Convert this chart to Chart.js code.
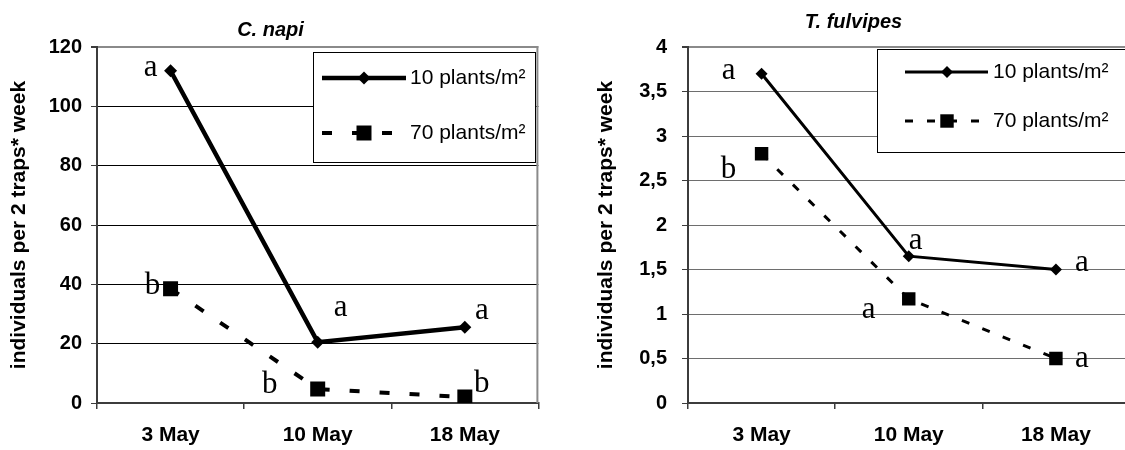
<!DOCTYPE html>
<html>
<head>
<meta charset="utf-8">
<script src="https://cdn.jsdelivr.net/npm/chart.js@4/dist/chart.umd.min.js"></script>
<style>
  html, body { margin: 0; padding: 0; background: #fff; width: 1125px; height: 450px; overflow: hidden; }
  body { position: relative; }
  .panel { position: absolute; top: 0; height: 450px; }
</style>
</head>
<body>
<div class="panel" id="napiPanel"><canvas id="napiChart"></canvas></div>
<div class="panel" id="fulvPanel"><canvas id="fulvChart"></canvas></div>
<script>
// ---- data ----
const dates = ['3 May', '10 May', '18 May'];
const densityLabels = ['10 plants/m²', '70 plants/m²'];

const napiTitle = 'C. napi';
const napiLow = [112, 20.5, 25.5];      // 10 plants/m²
const napiHigh = [38.5, 4.7, 2];        // 70 plants/m²
const napiLowLetters = ['a', 'a', 'a'];
const napiHighLetters = ['b', 'b', 'b'];
const napiTickLabels = ['0', '20', '40', '60', '80', '100', '120'];

const fulvTitle = 'T. fulvipes';
const fulvLow = [3.7, 1.65, 1.5];
const fulvHigh = [2.8, 1.17, 0.5];
const fulvLowLetters = ['a', 'a', 'a'];
const fulvHighLetters = ['b', 'a', 'a'];
const fulvTickLabels = ['0', '0,5', '1', '1,5', '2', '2,5', '3', '3,5', '4'];

const yAxisTitle = 'individuals per 2 traps* week';

// ---- styles ----
const SANS = '"Liberation Sans", Arial, sans-serif';
const SERIF = '"Liberation Serif", "Times New Roman", serif';
const AXIS_COLOR = '#3c3c3c';
const FRAME_GRAY = '#8a8a8a';

const napiStyle = {
  left: -7, width: 556, yWidth: 104, rightPad: 1,
  yMax: 120, yStep: 20,
  titlePad: { top: 20, bottom: 7 },
  yTitlePad: 14, yTickPad: 9, gridColor: '#000',
  series: [
    { width: 4.5, dash: [], point: 'rectRot', radius: 6.5 },
    { width: 4, dash: [10, 20], point: 'rect', radius: 10.6 }
  ],
  legend: { dx: 216, dy: 5, w: 222, h: 110, rows: [26, 81], line: [9, 93], marker: 51, text: 97 },
  letterOffsets: [
    [[-20, 5], [23, -26], [17, -8]],
    [[-18, 5], [-48, 4], [17, -5]]
  ]
};

const fulvStyle = {
  left: 569, width: 570, yWidth: 119, rightPad: 1,
  yMax: 4, yStep: 0.5,
  titlePad: { top: 12, bottom: 15 },
  yTitlePad: 25, yTickPad: 15, gridColor: '#6e6e6e',
  series: [
    { width: 3, dash: [], point: 'rectRot', radius: 6 },
    { width: 3, dash: [8, 14], point: 'rect', radius: 9.5 }
  ],
  legend: { dx: 189, dy: 2, w: 258, h: 103, rows: [23, 72], line: [28, 111], marker: 70, text: 116 },
  letterOffsets: [
    [[-33, 5], [7, -7], [26, 1]],
    [[-33, 24], [-40, 19], [26, 8]]
  ]
};

// ---- helpers ----
function drawMarker(ctx, style, radius, x, y) {
  ctx.beginPath();
  if (style === 'rectRot') {
    ctx.moveTo(x - radius, y);
    ctx.lineTo(x, y - radius);
    ctx.lineTo(x + radius, y);
    ctx.lineTo(x, y + radius);
  } else {
    const h = Math.SQRT1_2 * radius;
    ctx.rect(x - h, y - h, 2 * h, 2 * h);
  }
  ctx.closePath();
  ctx.fill();
}

// frame, in-plot legend box and significance letters
const overlayPlugin = {
  id: 'overlay',
  afterDatasetsDraw(chart, args, opts) {
    const ctx = chart.ctx;
    const area = chart.chartArea;
    const st = opts.style;
    ctx.save();

    // grey plot frame on the right side
    ctx.strokeStyle = FRAME_GRAY;
    ctx.lineWidth = 2;
    ctx.beginPath();
    ctx.moveTo(area.right - 1, area.top - 1);
    ctx.lineTo(area.right - 1, area.bottom);
    ctx.stroke();

    // legend box
    const L = st.legend;
    const bx = area.left + L.dx, by = area.top + L.dy;
    ctx.fillStyle = '#fff';
    ctx.fillRect(bx, by, L.w, L.h);
    ctx.strokeStyle = '#000';
    ctx.lineWidth = 1;
    ctx.strokeRect(bx + 0.5, by + 0.5, L.w, L.h);

    ctx.font = '21px ' + SANS;
    ctx.textBaseline = 'middle';
    ctx.textAlign = 'left';
    chart.data.datasets.forEach((ds, i) => {
      const y = by + L.rows[i];
      ctx.strokeStyle = ds.borderColor;
      ctx.lineWidth = ds.borderWidth;
      ctx.setLineDash(ds.borderDash || []);
      ctx.beginPath();
      ctx.moveTo(bx + L.line[0], y);
      ctx.lineTo(bx + L.line[1], y);
      ctx.stroke();
      ctx.setLineDash([]);
      ctx.fillStyle = ds.pointBackgroundColor;
      drawMarker(ctx, ds.pointStyle, ds.pointRadius, bx + L.marker, y);
      ctx.fillStyle = '#000';
      ctx.fillText(ds.label, bx + L.text, y);
    });

    // significance letters next to each point
    ctx.font = '31px ' + SERIF;
    ctx.textAlign = 'center';
    ctx.textBaseline = 'alphabetic';
    ctx.fillStyle = '#000';
    opts.letters.forEach((letters, i) => {
      const meta = chart.getDatasetMeta(i);
      letters.forEach((t, j) => {
        const pt = meta.data[j];
        const off = st.letterOffsets[i][j];
        ctx.fillText(t, pt.x + off[0], pt.y + off[1]);
      });
    });
    ctx.restore();
  }
};

function buildChart(panelId, canvasId, title, low, high, lowLetters, highLetters, tickLabels, st) {
  const panel = document.getElementById(panelId);
  panel.style.left = st.left + 'px';
  panel.style.width = st.width + 'px';
  const canvas = document.getElementById(canvasId);
  canvas.width = st.width;
  canvas.height = 450;

  const seriesData = [low, high];
  const datasets = seriesData.map((d, i) => ({
    label: densityLabels[i],
    data: d,
    borderColor: '#000',
    borderWidth: st.series[i].width,
    borderDash: st.series[i].dash,
    pointStyle: st.series[i].point,
    pointRadius: st.series[i].radius,
    pointBackgroundColor: '#000',
    pointBorderColor: '#000',
    pointBorderWidth: 0,
    tension: 0,
    fill: false
  }));

  return new Chart(canvas, {
    type: 'line',
    data: { labels: dates, datasets },
    plugins: [overlayPlugin],
    options: {
      responsive: false,
      animation: false,
      layout: { padding: { left: 0, right: st.rightPad, top: 0, bottom: 0 } },
      plugins: {
        legend: { display: false },
        tooltip: { enabled: false },
        title: {
          display: true,
          text: title,
          color: '#000',
          font: { family: SANS, size: 20, weight: 'bold', style: 'italic', lineHeight: 1 },
          padding: st.titlePad
        },
        overlay: { style: st, letters: [lowLetters, highLetters] }
      },
      scales: {
        x: {
          type: 'category',
          offset: true,
          grid: { offset: true, drawOnChartArea: false, drawTicks: true, tickLength: 6, color: AXIS_COLOR, lineWidth: 1.5 },
          border: { display: true, color: AXIS_COLOR, width: 2 },
          ticks: { color: '#000', font: { family: SANS, size: 21, weight: 'bold' }, padding: 14, maxRotation: 0 },
          afterFit(scale) { scale.height = 47; }
        },
        y: {
          type: 'linear',
          min: 0,
          max: st.yMax,
          grid: {
            drawTicks: true,
            tickLength: 6,
            tickColor: AXIS_COLOR,
            color: c => (c.tick && c.tick.value === st.yMax ? FRAME_GRAY : st.gridColor),
            lineWidth: c => (c.tick && c.tick.value === st.yMax ? 2 : 1)
          },
          border: { display: true, color: AXIS_COLOR, width: 2 },
          ticks: {
            stepSize: st.yStep,
            color: '#000',
            font: { family: SANS, size: 20, weight: 'bold' },
            padding: st.yTickPad,
            callback: (v, i) => tickLabels[i]
          },
          title: {
            display: true,
            text: yAxisTitle,
            color: '#000',
            font: { family: SANS, size: 21, weight: 'bold', lineHeight: 1.2 },
            padding: { top: st.yTitlePad, bottom: 0 }
          },
          afterFit(scale) { scale.width = st.yWidth; }
        }
      }
    }
  });
}

buildChart('napiPanel', 'napiChart', napiTitle, napiLow, napiHigh, napiLowLetters, napiHighLetters, napiTickLabels, napiStyle);
buildChart('fulvPanel', 'fulvChart', fulvTitle, fulvLow, fulvHigh, fulvLowLetters, fulvHighLetters, fulvTickLabels, fulvStyle);
</script>
</body>
</html>
